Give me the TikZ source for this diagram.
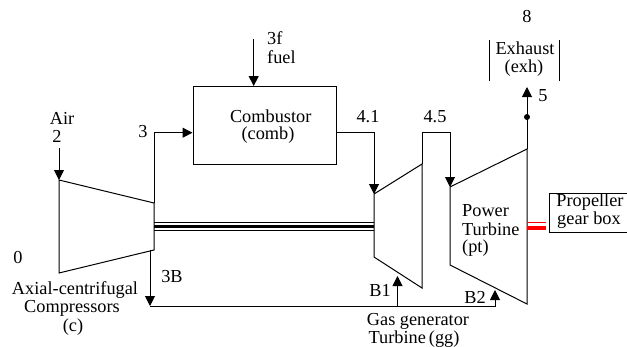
\documentclass[tikz,border=0pt]{standalone}
\usepackage{fontspec}
\setmainfont{Liberation Serif}
\usetikzlibrary{arrows.meta}
\tikzset{
  lbl/.style={inner sep=0pt,font=\fontsize{18.3}{19}\selectfont,align=center},
  ln/.style={draw=black,line width=1pt},
  arr/.style={ln,-{Triangle[length=10pt,width=10pt]}},
}
\begin{document}
\begin{tikzpicture}[x=1pt,y=-1pt]
\useasboundingbox (0,0) rectangle (627,346);
% components
\node[ln,minimum width=143.5pt,minimum height=78pt,inner sep=0pt,anchor=north west] (comb) at (192.5,86) {};
\node[lbl] at (270.7,116) (combt) {Combustor};
\node[lbl] at (268,135) (combu) {(comb)};
\coordinate (c1) at (59,180); \coordinate (c2) at (154,203); \coordinate (c3) at (154,250); \coordinate (c4) at (59,273);
\draw[ln] (c1)--(c2)--(c3)--(c4)--cycle;
\coordinate (g1) at (374,194); \coordinate (g2) at (422,164); \coordinate (g3) at (422,288); \coordinate (g4) at (374,257);
\draw[ln] (g1)--(g2)--(g3)--(g4)--cycle;
\coordinate (p1) at (450,187); \coordinate (p2) at (527,149); \coordinate (p3) at (527,304); \coordinate (p4) at (450,265);
\draw[ln] (p1)--(p2)--(p3)--(p4)--cycle;
% shaft
\coordinate (s1) at (154,226.5); \coordinate (s2) at (374,226.5);
\draw[black,line width=2.6pt] (s1)--(s2);
\draw[black,line width=1.1pt] ([yshift=-4.2pt]s1)--([yshift=-4.2pt]s2);
\draw[black,line width=1.1pt] ([yshift=4.2pt]s1)--([yshift=4.2pt]s2);
% flow
\coordinate (a0) at (59,148);
\draw[arr] (a0)--(c1);
\coordinate (k3) at (154,132.7);
\draw[arr] (c2)--(k3)--(comb.west|-k3);
\coordinate (f0) at (253.7,39);
\draw[arr] (f0)--(f0|-comb.north);
\coordinate (k41b) at (374,132.7);
\draw[arr] (comb.east|-k41b)--(k41b)--(g1);
\coordinate (k45a) at (422,132.7); \coordinate (k45b) at (450,132.7);
\draw[arr] (g2)--(k45a)--(k45b)--(p1);
\coordinate (ex) at (527,87); \coordinate (dot) at (527,117);
\draw[arr] (p2)--(ex);
\fill (dot) circle (3pt);
% bleed
\coordinate (b0) at (150,250); \coordinate (b1) at (150,306); \coordinate (b2) at (495,306); \coordinate (b2t) at (495,290);
\coordinate (bj) at (397.5,306); \coordinate (b1t) at (397.5,276);
\draw[arr] (b0)--(b1);
\draw[arr] (b1)--(b2)--(b2t);
\draw[arr] (bj)--(b1t);
% exhaust bars
\coordinate (e1) at (489,40); \coordinate (e2) at (489,81); \coordinate (e3) at (559,40); \coordinate (e4) at (559,81);
\draw[ln] (e1)--(e2); \draw[ln] (e3)--(e4);
% propeller
\node[ln,minimum width=78pt,minimum height=39pt,inner sep=0pt,anchor=north west] (prop) at (549,193) {};
\coordinate (r1) at (527,222.7); \coordinate (r2) at (545.5,222.7);
\coordinate (r3) at (527,227.7); \coordinate (r4) at (545.5,227.7);
\draw[red,line width=1.4pt] (r1)--(r2);
\draw[red,line width=4pt] (r3)--(r4);
% labels
\node[lbl] (air) at (62,118) {Air};
\node[lbl] (two) at (57,136) {2};
\node[lbl] (three) at (143,132) {3};
\node[lbl] (zero) at (18,257) {0};
\node[lbl] (tb) at (172,277) {3B};
\node[lbl] (axial) at (75,290) {Axial-centrifugal};
\node[lbl] (compr) at (72,308) {Compressors};
\node[lbl] (cc) at (73,327) {(c)};
\node[lbl,anchor=west] (tf) at (267,38) {3f};
\node[lbl,anchor=west] (fuel) at (267,57) {fuel};
\node[lbl] (f41) at (368,117) {4.1};
\node[lbl] (f45) at (435,117) {4.5};
\node[lbl] (eight) at (527,17) {8};
\node[lbl] (five) at (543,96) {5};
\node[lbl] (exh) at (525,48) {Exhaust};
\node[lbl] (exh2) at (524,68) {(exh)};
\node[lbl,anchor=west] (pw) at (462,211) {Power};
\node[lbl,anchor=west] (tu) at (462,229) {Turbine};
\node[lbl,anchor=west] (pt) at (462,248) {(pt)};
\node[lbl] (pr) at (590,202) {Propeller};
\node[lbl] (gb) at (589,220.5) {gear box};
\node[lbl] (bb1) at (380,290) {B1};
\node[lbl] (bb2) at (475,297) {B2};
\node[lbl] (gg) at (418,321) {Gas generator};
\node[lbl] (tgg) at (414,339) {Turbine\,(gg)};
\end{tikzpicture}
\end{document}
